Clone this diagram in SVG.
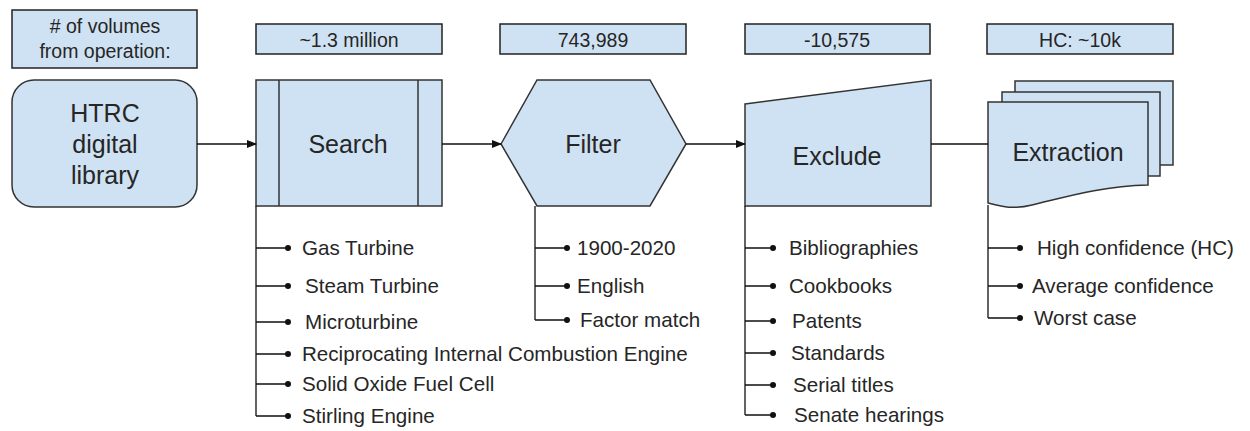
<svg xmlns="http://www.w3.org/2000/svg" width="1250" height="431" viewBox="0 0 1250 431">
<style>
.shape{fill:#cfe2f3;stroke:#333;stroke-width:1.5}
.lbl{fill:#cfe2f3;stroke:#222;stroke-width:1.5}
.t{font-family:"Liberation Sans",Arial,sans-serif;fill:#262626}
.big{font-size:25px;text-anchor:middle}
.mid{font-size:19.5px;text-anchor:middle}
.item{font-size:20.6px}
.conn{fill:none;stroke:#111;stroke-width:1.3}
.dot{fill:#111}
</style>
<defs>
<marker id="ah" markerWidth="10" markerHeight="8" refX="9" refY="4" orient="auto" markerUnits="userSpaceOnUse">
<path d="M0,0 L10,4 L0,8 Z" fill="#111"/>
</marker>
</defs>
<rect width="1250" height="431" fill="#fff"/>

<g id="label-ops">
<rect class="lbl" x="12" y="10" width="185" height="58"/>
<text class="t mid" x="105" y="33">
# of volumes</text>
<text class="t mid" x="105" y="58">from operation:</text>
</g>
<g id="label-search">
<rect class="lbl" x="256" y="24" width="186" height="30"/>
<text class="t mid" x="349" y="47">~1.3 million</text>
</g>
<g id="label-filter">
<rect class="lbl" x="500" y="24" width="186" height="30"/>
<text class="t mid" x="593" y="47">743,989</text>
</g>
<g id="label-exclude">
<rect class="lbl" x="745" y="24" width="185" height="30"/>
<text class="t mid" x="837" y="47">-10,575</text>
</g>
<g id="label-extraction">
<rect class="lbl" x="987" y="24" width="186" height="30"/>
<text class="t mid" x="1080" y="47">HC: ~10k</text>
</g>

<g id="htrc">
<rect class="shape" x="12" y="80" width="185" height="127" rx="22" ry="22"/>
<text class="t big" x="105" y="122">HTRC</text>
<text class="t big" x="105" y="153">digital</text>
<text class="t big" x="105" y="184">library</text>
</g>

<g id="search">
<rect class="shape" x="256" y="80" width="186" height="126"/>
<line class="shape" x1="279" y1="80" x2="279" y2="206"/>
<line class="shape" x1="418" y1="80" x2="418" y2="206"/>
<text class="t big" x="348" y="153">Search</text>
</g>

<g id="filter">
<polygon class="shape" points="501,144 537,80 650,80 686,144 650,206 537,206"/>
<text class="t big" x="593" y="153">Filter</text>
</g>

<g id="exclude">
<polygon class="shape" points="745,104 931,80 931,206 745,206"/>
<text class="t big" x="837" y="165">Exclude</text>
</g>

<g id="extraction">
<rect class="shape" x="1015" y="81" width="158" height="84"/>
<rect class="shape" x="1002" y="92" width="158" height="84"/>
<path class="shape" d="M988,102 H1148 V185 C1100,186 1062,198 1032,205 C1012,210 1000,206 988,203 Z"/>
<text class="t big" x="1068" y="161">Extraction</text>
</g>

<g id="connectors">
<line class="conn" x1="197" y1="144" x2="256" y2="144" marker-end="url(#ah)"/>
<line class="conn" x1="442" y1="144" x2="501" y2="144" marker-end="url(#ah)"/>
<line class="conn" x1="686" y1="144" x2="745" y2="144" marker-end="url(#ah)"/>
<line class="conn" x1="931" y1="144" x2="988" y2="144"/>

<path class="conn" d="M256,206 V416 M256,248 H288 M256,286 H288 M256,322 H288 M256,354 H288 M256,384 H288 M256,416 H288"/>
<path class="conn" d="M535,206 V320 M535,248 H567 M535,286 H567 M535,320 H567"/>
<path class="conn" d="M745,206 V415 M745,248 H773 M745,286 H773 M745,321 H773 M745,353 H773 M745,385 H773 M745,415 H773"/>
<path class="conn" d="M988,205 V318 M988,248 H1020 M988,286 H1020 M988,318 H1020"/>
<g class="dot">
<circle cx="288" cy="248" r="3"/><circle cx="288" cy="286" r="3"/><circle cx="288" cy="322" r="3"/><circle cx="288" cy="354" r="3"/><circle cx="288" cy="384" r="3"/><circle cx="288" cy="416" r="3"/>
<circle cx="567" cy="248" r="3"/><circle cx="567" cy="286" r="3"/><circle cx="567" cy="320" r="3"/>
<circle cx="773" cy="248" r="3"/><circle cx="773" cy="286" r="3"/><circle cx="773" cy="321" r="3"/><circle cx="773" cy="353" r="3"/><circle cx="773" cy="385" r="3"/><circle cx="773" cy="415" r="3"/>
<circle cx="1020" cy="248" r="3"/><circle cx="1020" cy="286" r="3"/><circle cx="1020" cy="318" r="3"/>
</g>
</g>

<g id="search-items">
<text class="t item" x="302" y="255">Gas Turbine</text>
<text class="t item" x="305" y="293">Steam Turbine</text>
<text class="t item" x="305" y="329">Microturbine</text>
<text class="t item" x="302" y="361">Reciprocating Internal Combustion Engine</text>
<text class="t item" x="302" y="391">Solid Oxide Fuel Cell</text>
<text class="t item" x="302" y="423">Stirling Engine</text>
</g>
<g id="filter-items">
<text class="t item" x="577" y="255">1900-2020</text>
<text class="t item" x="577" y="293">English</text>
<text class="t item" x="580" y="327">Factor match</text>
</g>
<g id="exclude-items">
<text class="t item" x="789" y="255">Bibliographies</text>
<text class="t item" x="789" y="293">Cookbooks</text>
<text class="t item" x="792" y="328">Patents</text>
<text class="t item" x="791" y="360">Standards</text>
<text class="t item" x="793" y="392">Serial titles</text>
<text class="t item" x="794" y="422">Senate hearings</text>
</g>
<g id="extraction-items">
<text class="t item" x="1037" y="255">High confidence (HC)</text>
<text class="t item" x="1032" y="293">Average confidence</text>
<text class="t item" x="1034" y="325">Worst case</text>
</g>
</svg>
